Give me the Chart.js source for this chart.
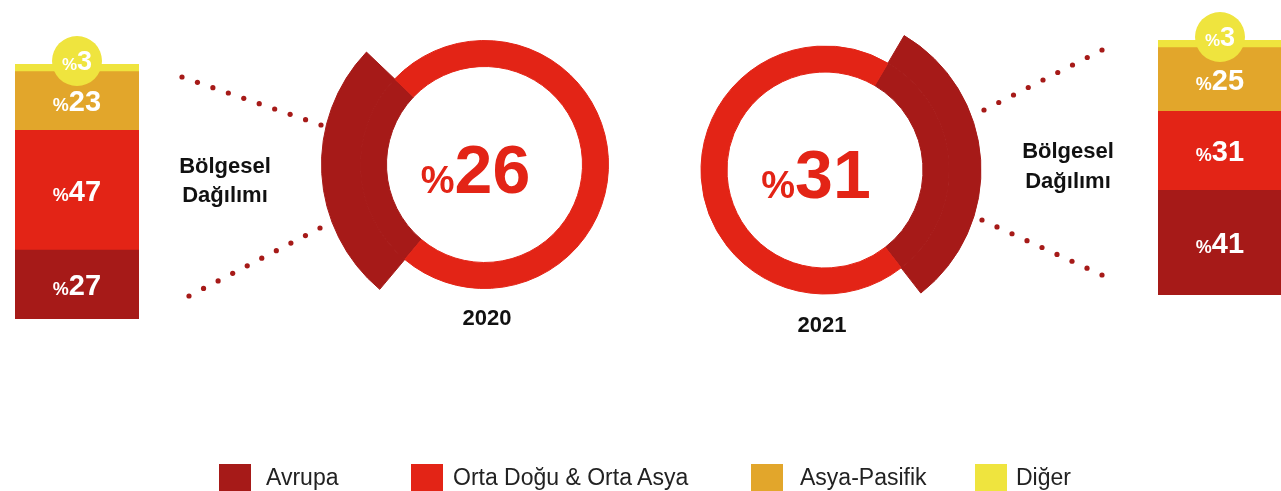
<!DOCTYPE html>
<html lang="tr">
<head>
<meta charset="utf-8">
<title>Bölgesel Dağılım 2020 - 2021</title>
<script src="https://cdn.jsdelivr.net/npm/chart.js@4.4.1/dist/chart.umd.min.js"></script>
<style>
  html, body { margin: 0; padding: 0; background: #fff; }
  body { width: 1281px; height: 491px; position: relative; overflow: hidden;
         font-family: "Liberation Sans", Arial, sans-serif; }
  canvas { position: absolute; }
  .lbl { position: absolute; font-weight: bold; color: #111; text-align: center; white-space: nowrap; }
  .bolge { font-size: 22px; line-height: 29px; width: 160px; }
  .year { font-size: 22px; line-height: 26px; width: 120px; }
  .key { position: absolute; top: 464px; width: 32px; height: 32px; }
  .keytxt { position: absolute; top: 464px; font-size: 23px; line-height: 26px; color: #222; white-space: nowrap; }
</style>
</head>
<body>

<canvas id="dots" width="1281" height="491" style="left:0;top:0"></canvas>
<canvas id="bar2020" width="124" height="290" style="left:15px;top:30px"></canvas>
<canvas id="bar2021" width="124" height="291" style="left:1158px;top:5px"></canvas>
<canvas id="donut2020" width="341" height="329" style="left:314px;top:0"></canvas>
<canvas id="donut2021" width="340" height="340" style="left:655px;top:0"></canvas>

<div class="lbl bolge" style="left:145px;top:151px">Bölgesel<br>Dağılımı</div>
<div class="lbl bolge" style="left:988px;top:136px;line-height:30px">Bölgesel<br>Dağılımı</div>
<div class="lbl year" style="left:427px;top:305px">2020</div>
<div class="lbl year" style="left:762px;top:312px">2021</div>

<div class="key" style="left:219px;background:#A61A18"></div><div class="keytxt" style="left:266px">Avrupa</div>
<div class="key" style="left:411px;background:#E32416"></div><div class="keytxt" style="left:453px">Orta Doğu &amp; Orta Asya</div>
<div class="key" style="left:751px;background:#E2A62B"></div><div class="keytxt" style="left:800px">Asya-Pasifik</div>
<div class="key" style="left:975px;background:#EFE43E"></div><div class="keytxt" style="left:1016px">Diğer</div>

<script>
// veriler
const regions = ['Avrupa', 'Orta Doğu & Orta Asya', 'Asya-Pasifik', 'Diğer'];
const share2020 = [27, 47, 23, 3];
const share2021 = [41, 31, 25, 3];
const years = ['2020', '2021'];
const avrupaPay = [26, 31];   // halkadaki büyük yüzde

// renkler
const regionColors = ['#A61A18', '#E32416', '#E2A62B', '#EFE43E'];
const DARK = regionColors[0];
const RED = regionColors[1];
const FONT = '"Liberation Sans", Arial, sans-serif';

// "%" küçük, sayı büyük, aynı taban çizgisinde
function drawPct(ctx, value, cx, baseline, big, small, color) {
  ctx.save();
  ctx.fillStyle = color;
  ctx.textAlign = 'left';
  ctx.textBaseline = 'alphabetic';
  ctx.font = 'bold ' + small + 'px ' + FONT;
  const w1 = ctx.measureText('%').width;
  ctx.font = 'bold ' + big + 'px ' + FONT;
  const w2 = ctx.measureText(String(value)).width;
  const x = cx - (w1 + w2) / 2;
  ctx.font = 'bold ' + small + 'px ' + FONT;
  ctx.fillText('%', x, baseline);
  ctx.font = 'bold ' + big + 'px ' + FONT;
  ctx.fillText(String(value), x + w1, baseline);
  ctx.restore();
}

// yığılmış çubuğun etiketleri + en üstteki küçük dilim için balon
const stackLabels = {
  id: 'stackLabels',
  afterDatasetsDraw(chart) {
    const ctx = chart.ctx;
    const n = chart.data.datasets.length;
    chart.data.datasets.forEach((ds, i) => {
      const bar = chart.getDatasetMeta(i).data[0];
      const val = ds.data[0];
      if (i === n - 1) {
        ctx.save();
        ctx.fillStyle = ds.backgroundColor;
        ctx.beginPath();
        ctx.arc(bar.x, bar.y - 3, 25, 0, Math.PI * 2);
        ctx.fill();
        ctx.restore();
        drawPct(ctx, val, bar.x, bar.y + 6, 27, 17, '#fff');
      } else {
        const mid = (bar.y + bar.base) / 2;
        drawPct(ctx, val, bar.x, mid + 10.5, 29, 18, '#fff');
      }
    });
  }
};

function stackBar(id, values) {
  return new Chart(document.getElementById(id), {
    type: 'bar',
    data: {
      labels: [''],
      datasets: regions.map((r, i) => ({
        label: r,
        data: [values[i]],
        backgroundColor: regionColors[i],
        borderWidth: 0,
        barPercentage: 1,
        categoryPercentage: 1
      }))
    },
    options: {
      responsive: false,
      animation: false,
      events: [],
      layout: { padding: { top: id === 'bar2020' ? 34 : 35, bottom: 1 } },
      scales: {
        x: { stacked: true, display: false },
        y: { stacked: true, display: false, min: 0, max: 100 }
      },
      plugins: { legend: { display: false }, tooltip: { enabled: false } }
    },
    plugins: [stackLabels]
  });
}

// halkanın ortasındaki büyük yüzde
const centerLabel = {
  id: 'centerLabel',
  afterDraw(chart, args, opts) {
    const arc = chart.getDatasetMeta(0).data[0];
    drawPct(chart.ctx, opts.text, arc.x - 9, arc.y + 28, 68, 38, RED);
  }
};

const RING_INNER = 98;
const RING_OUTER = 124;

function donut(id, share, outerR, rotation) {
  const outerCols = [DARK, 'rgba(0,0,0,0)'];
  const innerCols = [DARK, RED];
  return new Chart(document.getElementById(id), {
    type: 'doughnut',
    data: {
      labels: ['Avrupa', 'Diğer bölgeler'],
      datasets: [
        { data: [share, 100 - share], backgroundColor: outerCols, borderColor: outerCols, weight: outerR - RING_OUTER },
        { data: [share, 100 - share], backgroundColor: innerCols, borderColor: innerCols, weight: RING_OUTER - RING_INNER }
      ]
    },
    options: {
      responsive: false,
      animation: false,
      events: [],
      radius: outerR,
      cutout: (RING_INNER / outerR * 100) + '%',
      rotation: rotation,
      elements: { arc: { borderWidth: 1, hoverOffset: 0 } },
      plugins: {
        legend: { display: false },
        tooltip: { enabled: false },
        centerLabel: { text: String(share) }
      }
    },
    plugins: [centerLabel]
  });
}

// noktalı çizgiler (süs)
const dotLines = [
  [182, 77, 321, 125, 10],
  [189, 296, 320, 228, 10],
  [984, 110, 1102, 50, 9],
  [982, 220, 1102, 275, 9]
];
const dctx = document.getElementById('dots').getContext('2d');
dctx.fillStyle = DARK;
dotLines.forEach(l => {
  for (let k = 0; k < l[4]; k++) {
    const t = k / (l[4] - 1);
    dctx.beginPath();
    dctx.arc(l[0] + (l[2] - l[0]) * t, l[1] + (l[3] - l[1]) * t, 2.6, 0, Math.PI * 2);
    dctx.fill();
  }
});

stackBar('bar2020', share2020);
stackBar('bar2021', share2021);
donut('donut2020', avrupaPay[0], 163, 220);
donut('donut2021', avrupaPay[1], 156, 30.5);
</script>
</body>
</html>
